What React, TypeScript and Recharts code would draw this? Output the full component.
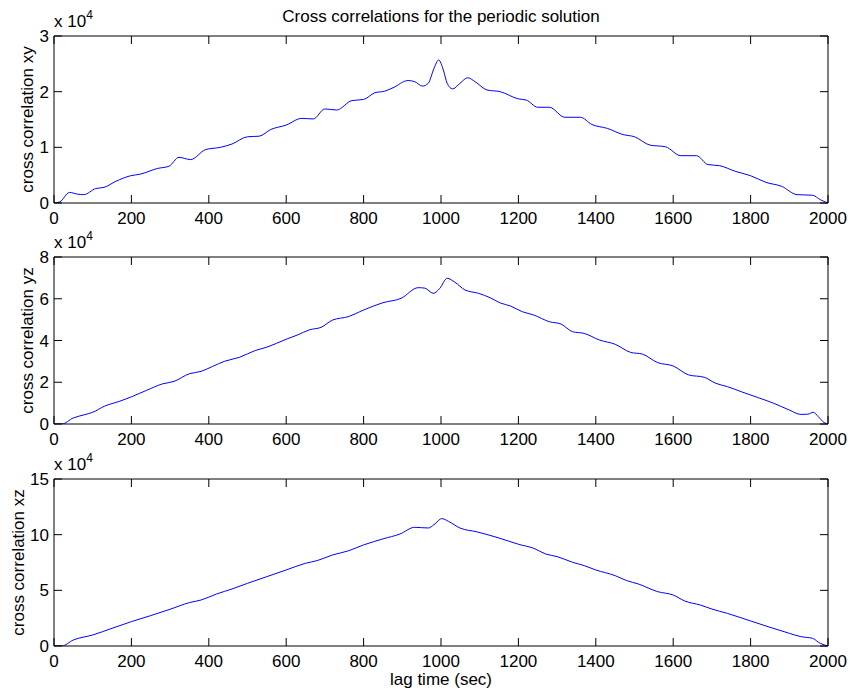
import { Line, LineChart, XAxis, YAxis } from 'recharts'

const FONT = '"Liberation Sans", Arial, Helvetica, sans-serif'
const FS = 17
const TICK = 8
const W = 850
const H = 696
const PLOT_L = 54
const PLOT_R = 828

const LAG_TICKS = [0, 200, 400, 600, 800, 1000, 1200, 1400, 1600, 1800, 2000]

// values are in units of 10^4
const LAG_XY = [0, 15, 40, 60, 77, 108, 129, 160, 198, 224, 267, 297, 323, 353, 392, 430, 460, 500, 530, 560, 600, 640, 670, 700, 730, 770, 800, 829, 855, 876, 915, 932, 952, 967, 982, 994, 1006, 1016, 1030, 1049, 1069, 1088, 1119, 1153, 1200, 1220, 1250, 1280, 1320, 1360, 1390, 1430, 1470, 1500, 1540, 1580, 1620, 1660, 1690, 1720, 1760, 1800, 1840, 1880, 1920, 1960, 1980, 2000]
const XY = [0, 0.02, 0.19, 0.16, 0.15, 0.26, 0.28, 0.39, 0.49, 0.52, 0.62, 0.66, 0.82, 0.78, 0.96, 1.0, 1.06, 1.19, 1.2, 1.32, 1.4, 1.52, 1.51, 1.69, 1.67, 1.84, 1.86, 1.98, 2.01, 2.07, 2.2, 2.18, 2.1, 2.15, 2.42, 2.57, 2.39, 2.15, 2.05, 2.15, 2.25, 2.18, 2.03, 2.0, 1.87, 1.85, 1.72, 1.72, 1.54, 1.54, 1.41, 1.34, 1.23, 1.19, 1.04, 1.01, 0.85, 0.85, 0.69, 0.67, 0.57, 0.49, 0.37, 0.3, 0.15, 0.14, 0.06, 0]

const LAG_YZ = [0, 20, 50, 80, 100, 130, 170, 200, 240, 280, 310, 350, 380, 410, 440, 480, 520, 550, 600, 630, 660, 690, 720, 760, 800, 850, 897, 941, 958, 980, 997, 1016, 1036, 1062, 1097, 1127, 1153, 1180, 1210, 1240, 1280, 1310, 1340, 1370, 1410, 1450, 1490, 1520, 1560, 1600, 1640, 1680, 1710, 1740, 1780, 1820, 1860, 1900, 1930, 1948, 1962, 1975, 1990, 2000]
const YZ = [0, 0, 0.29, 0.45, 0.56, 0.85, 1.09, 1.3, 1.62, 1.92, 2.04, 2.41, 2.52, 2.76, 3.0, 3.2, 3.52, 3.68, 4.06, 4.27, 4.51, 4.63, 4.98, 5.14, 5.46, 5.81, 6.02, 6.53, 6.51, 6.26, 6.5, 6.98, 6.79, 6.42, 6.26, 6.05, 5.8, 5.65, 5.38, 5.22, 4.9, 4.79, 4.42, 4.34, 4.02, 3.82, 3.43, 3.35, 2.94, 2.78, 2.35, 2.24, 1.95, 1.79, 1.52, 1.26, 0.99, 0.67, 0.46, 0.47, 0.56, 0.35, 0.07, 0]

const LAG_XZ = [0, 20, 50, 100, 150, 200, 250, 300, 350, 380, 420, 460, 500, 550, 600, 650, 680, 720, 760, 800, 850, 894, 932, 967, 982, 1002, 1019, 1049, 1093, 1150, 1200, 1240, 1270, 1300, 1340, 1370, 1400, 1450, 1480, 1510, 1560, 1600, 1630, 1670, 1700, 1740, 1800, 1850, 1900, 1930, 1960, 1980, 2000]
const XZ = [0, 0, 0.54, 0.99, 1.59, 2.19, 2.73, 3.3, 3.9, 4.13, 4.67, 5.12, 5.63, 6.23, 6.83, 7.43, 7.67, 8.18, 8.54, 9.08, 9.62, 10.06, 10.66, 10.6, 10.9, 11.44, 11.2, 10.6, 10.25, 9.7, 9.14, 8.77, 8.27, 8.03, 7.52, 7.22, 6.83, 6.32, 5.87, 5.57, 4.88, 4.58, 4.04, 3.68, 3.32, 2.93, 2.25, 1.68, 1.14, 0.84, 0.69, 0.24, 0]

const TICKS_XY = [0, 1, 2, 3]
const TICKS_YZ = [0, 2, 4, 6, 8]
const TICKS_XZ = [0, 5, 10, 15]

const toRows = (lags: number[], vals: number[]) => lags.map((lag, i) => ({ lag, v: vals[i] }))

const panels = [
  { key: 'xy', rows: toRows(LAG_XY, XY), ticks: TICKS_XY, label: 'cross correlation xy', top: 36, bottom: 203, labelX: 33 },
  { key: 'yz', rows: toRows(LAG_YZ, YZ), ticks: TICKS_YZ, label: 'cross correlation yz', top: 257, bottom: 424, labelX: 33 },
  { key: 'xz', rows: toRows(LAG_XZ, XZ), ticks: TICKS_XZ, label: 'cross correlation xz', top: 479, bottom: 646, labelX: 24 },
]

const txt = { fontFamily: FONT, fontSize: FS, fill: '#000' }

function BottomTick({ x, y, payload }: any) {
  return (
    <g>
      <line x1={x} y1={y} x2={x} y2={y - TICK} stroke="#000" />
      <text x={x} y={y + 21} textAnchor="middle" {...txt}>{payload.value}</text>
    </g>
  )
}

function TopTick({ x, y }: any) {
  return <line x1={x} y1={y} x2={x} y2={y + TICK} stroke="#000" />
}

function LeftTick({ x, y, payload }: any) {
  return (
    <g>
      <line x1={x} y1={y} x2={x + TICK} y2={y} stroke="#000" />
      <text x={x - 5} y={y + 6} textAnchor="end" {...txt}>{payload.value}</text>
    </g>
  )
}

function RightTick({ x, y }: any) {
  return <line x1={x} y1={y} x2={x - TICK} y2={y} stroke="#000" />
}

export default function App() {
  return (
    <div style={{ position: 'absolute', left: 0, top: 0, width: W, height: H, background: '#fff' }}>
      {panels.map((p) => {
        const ymax = p.ticks[p.ticks.length - 1]
        return (
          <div key={p.key} style={{ position: 'absolute', left: 0, top: 0 }}>
            <LineChart
              width={W}
              height={H}
              data={p.rows}
              margin={{ top: p.top - 1, bottom: H - p.bottom - 1, left: PLOT_L - 1, right: W - PLOT_R - 1 }}
            >
              <XAxis dataKey="lag" type="number" domain={[0, 2000]} ticks={LAG_TICKS} interval={0} allowDataOverflow
                height={1} tickSize={0} tickMargin={0} stroke="#000" tick={<BottomTick />} />
              <XAxis xAxisId="top" orientation="top" dataKey="lag" type="number" domain={[0, 2000]} ticks={LAG_TICKS} interval={0} allowDataOverflow
                height={1} tickSize={0} tickMargin={0} stroke="#000" tick={<TopTick />} />
              <YAxis type="number" domain={[0, ymax]} ticks={p.ticks} interval={0} allowDataOverflow
                width={1} tickSize={0} tickMargin={0} stroke="#000" tick={<LeftTick />} />
              <YAxis yAxisId="right" orientation="right" type="number" domain={[0, ymax]} ticks={p.ticks} interval={0} allowDataOverflow
                width={1} tickSize={0} tickMargin={0} stroke="#000" tick={<RightTick />} />
              <Line type="monotone" dataKey="v" stroke="#0000ff" strokeWidth={1} dot={false} isAnimationActive={false} />
            </LineChart>
          </div>
        )
      })}
      <svg width={W} height={H} style={{ position: 'absolute', left: 0, top: 0, pointerEvents: 'none' }}>
        <text x={(PLOT_L + PLOT_R) / 2} y={22} textAnchor="middle" {...txt}>Cross correlations for the periodic solution</text>
        {panels.map((p) => (
          <g key={p.key}>
            <text x={PLOT_L} y={p.top - 9} {...txt}>
              x 10<tspan dy={-8} fontSize={12}>4</tspan>
            </text>
            <text transform={`translate(${p.labelX},${(p.top + p.bottom) / 2}) rotate(-90)`} textAnchor="middle" {...txt}>{p.label}</text>
          </g>
        ))}
        <text x={(PLOT_L + PLOT_R) / 2} y={685} textAnchor="middle" {...txt}>lag time (sec)</text>
      </svg>
    </div>
  )
}
